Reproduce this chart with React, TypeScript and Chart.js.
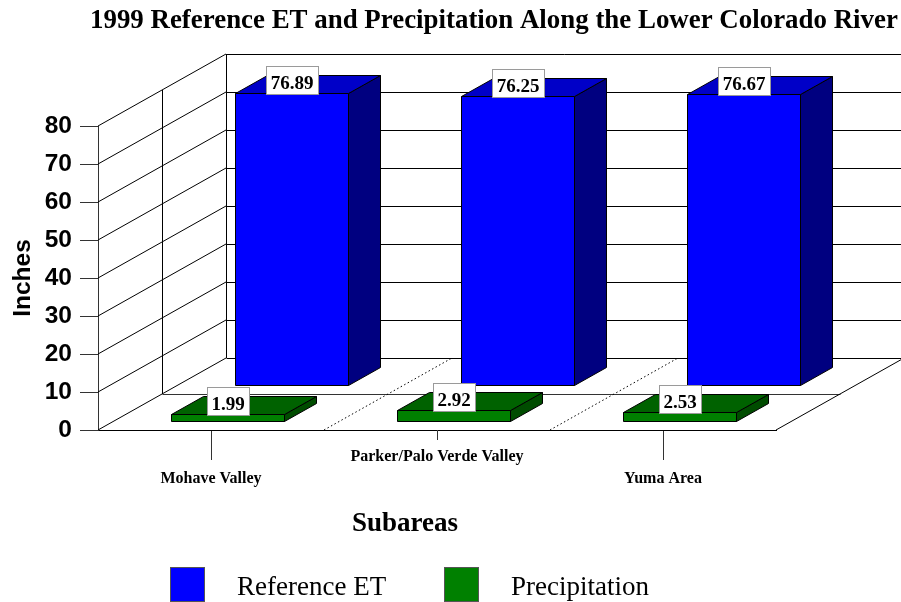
import { useEffect, useRef } from 'react';
import { Chart, registerables } from 'chart.js';

Chart.register(...registerables);

// ---- data ----
const chartTitle = '1999 Reference ET and Precipitation Along the Lower Colorado River';
const categories = ['Mohave Valley', 'Parker/Palo Verde Valley', 'Yuma Area'];
const referenceET = [76.89, 76.25, 76.67];
const precipitation = [1.99, 2.92, 2.53];
const seriesNames = ['Reference ET', 'Precipitation'];
const yMin = 0;
const yMax = 80;
const yStep = 10;
const yAxisTitle = 'Inches';
const xAxisTitle = 'Subareas';

// ---- style ----
const SERIF = '"Liberation Serif", "Times New Roman", serif';
const SANS = '"Liberation Sans", Arial, sans-serif';
const DEPTH_DX = 64;
const DEPTH_DY = -36;
const ET_COLORS = { front: '#0000FF', top: '#0000C8', side: '#000080' };
const PR_COLORS = { front: '#008000', top: '#006200', side: '#004C00' };

function drawScene(chart: any) {
  const ctx: CanvasRenderingContext2D = chart.ctx;
  const xs = chart.scales.x;
  const ys = chart.scales.y;
  const ca = chart.chartArea;
  const left = ca.left;
  const right = ca.right;
  const y0 = ys.getPixelForValue(yMin);
  const catW = xs.getPixelForValue(1) - xs.getPixelForValue(0);

  ctx.save();
  ctx.lineWidth = 1;
  const line = (x1: number, y1: number, x2: number, y2: number) => {
    ctx.beginPath();
    ctx.moveTo(x1, y1);
    ctx.lineTo(x2, y2);
    ctx.stroke();
  };
  const a = (v: number) => Math.round(v) + 0.5;

  // back wall and left wall
  ctx.strokeStyle = '#000';
  for (let v = yMin; v <= yMax; v += yStep) {
    const y = ys.getPixelForValue(v);
    line(a(left + 2 * DEPTH_DX), a(y + 2 * DEPTH_DY), right + 2 * DEPTH_DX + 20, a(y + 2 * DEPTH_DY));
    line(left, y, left + 2 * DEPTH_DX, y + 2 * DEPTH_DY);
  }
  const yTop = ys.getPixelForValue(yMax);
  line(a(left + DEPTH_DX), yTop + DEPTH_DY, a(left + DEPTH_DX), y0 + DEPTH_DY);
  line(a(left + 2 * DEPTH_DX), yTop + 2 * DEPTH_DY, a(left + 2 * DEPTH_DX), y0 + 2 * DEPTH_DY);

  // floor
  ctx.strokeStyle = '#333';
  line(a(left + DEPTH_DX), a(y0 + DEPTH_DY), a(right + DEPTH_DX), a(y0 + DEPTH_DY));
  ctx.strokeStyle = '#000';
  line(right, y0, right + 2 * DEPTH_DX, y0 + 2 * DEPTH_DY);
  ctx.setLineDash([1.5, 2.5]);
  for (let i = 1; i < categories.length; i++) {
    const xb = (xs.getPixelForValue(i - 1) + xs.getPixelForValue(i)) / 2;
    line(xb, y0, xb + 2 * DEPTH_DX, y0 + 2 * DEPTH_DY);
  }
  ctx.setLineDash([]);

  const bw = catW * 0.5;
  const drawBar = (cx: number, value: number, depth: number, col: any) => {
    const fx = Math.round(cx + depth * DEPTH_DX - bw / 2) + 0.5;
    const fr = Math.round(cx + depth * DEPTH_DX + bw / 2) + 0.5;
    const fb = Math.round(y0 + depth * DEPTH_DY) + 0.5;
    const ft = Math.round(fb - (y0 - ys.getPixelForValue(value))) + 0.5;
    const ox = Math.round(0.5 * DEPTH_DX);
    const oy = Math.round(0.5 * DEPTH_DY);
    ctx.strokeStyle = '#000';
    ctx.lineJoin = 'miter';
    // side
    ctx.beginPath();
    ctx.moveTo(fr, ft);
    ctx.lineTo(fr + ox, ft + oy);
    ctx.lineTo(fr + ox, fb + oy);
    ctx.lineTo(fr, fb);
    ctx.closePath();
    ctx.fillStyle = col.side;
    ctx.fill();
    ctx.stroke();
    // top
    ctx.beginPath();
    ctx.moveTo(fx, ft);
    ctx.lineTo(fr, ft);
    ctx.lineTo(fr + ox, ft + oy);
    ctx.lineTo(fx + ox, ft + oy);
    ctx.closePath();
    ctx.fillStyle = col.top;
    ctx.fill();
    ctx.stroke();
    // front
    ctx.beginPath();
    ctx.rect(fx, ft, fr - fx, fb - ft);
    ctx.fillStyle = col.front;
    ctx.fill();
    ctx.stroke();
    return { cx: (fx + fr) / 2, top: ft };
  };

  const drawLabel = (cx: number, top: number, value: number) => {
    const txt = value.toFixed(2);
    ctx.font = 'bold 19px ' + SERIF;
    const tw = ctx.measureText(txt).width;
    const w = Math.round(tw + 9);
    const h = 28;
    const bx = Math.round(cx - w / 2) + 0.5;
    const by = Math.round(top - h) + 0.5;
    ctx.fillStyle = '#fff';
    ctx.fillRect(bx, by, w, h);
    ctx.strokeStyle = '#9a9a9a';
    ctx.strokeRect(bx, by, w, h);
    ctx.fillStyle = '#000';
    ctx.textAlign = 'center';
    ctx.textBaseline = 'alphabetic';
    ctx.fillText(txt, cx, by + h - 6);
  };

  // back row: Reference ET
  const etTops = referenceET.map((v, i) => drawBar(xs.getPixelForValue(i), v, 1.25, ET_COLORS));
  etTops.forEach((t, i) => drawLabel(t.cx, t.top, referenceET[i]));
  // front row: Precipitation
  const prTops = precipitation.map((v, i) => drawBar(xs.getPixelForValue(i), v, 0.25, PR_COLORS));
  prTops.forEach((t, i) => drawLabel(t.cx, t.top, precipitation[i]));

  // longer ticks for the lower (staggered) category labels
  ctx.strokeStyle = '#333';
  categories.forEach((_, i) => {
    if (i % 2 === 0) {
      const x = a(xs.getPixelForTick(i));
      line(x, y0 + 10, x, y0 + 30);
    }
  });
  ctx.restore();
}

function drawFrameText(chart: any) {
  const ctx: CanvasRenderingContext2D = chart.ctx;
  const xs = chart.scales.x;
  ctx.save();
  ctx.fillStyle = '#000';
  ctx.textBaseline = 'alphabetic';
  // title
  ctx.font = 'bold 26.9px ' + SERIF;
  ctx.textAlign = 'left';
  ctx.fillText(chartTitle, 90, 28);
  // x axis title
  ctx.font = 'bold 27px ' + SERIF;
  ctx.textAlign = 'center';
  const midCat = (xs.getPixelForValue(0) + xs.getPixelForValue(categories.length - 1)) / 2;
  ctx.fillText(xAxisTitle, midCat - 32, 531);
  // legend
  const entries = [
    { name: seriesNames[0], color: ET_COLORS.front, x: 170 },
    { name: seriesNames[1], color: PR_COLORS.front, x: 444 },
  ];
  ctx.font = '27px ' + SERIF;
  ctx.textAlign = 'left';
  entries.forEach((e) => {
    ctx.fillStyle = e.color;
    ctx.fillRect(e.x + 0.5, 567.5, 34, 34);
    ctx.strokeStyle = '#555';
    ctx.lineWidth = 1;
    ctx.strokeRect(e.x + 0.5, 567.5, 34, 34);
    ctx.fillStyle = '#000';
    ctx.fillText(e.name, e.x + 67, 595);
  });
  ctx.restore();
}

const scenePlugin = {
  id: 'scene3d',
  afterDatasetsDraw(chart: any) {
    drawScene(chart);
  },
  afterDraw(chart: any) {
    drawFrameText(chart);
  },
};

export default function App() {
  const ref = useRef<HTMLCanvasElement | null>(null);
  useEffect(() => {
    if (!ref.current) return;
    const chart = new Chart(ref.current, {
      type: 'bar',
      data: {
        labels: categories.map((c, i) => (i % 2 === 0 ? ['', c] : [c])),
        datasets: [
          { label: seriesNames[0], data: referenceET, backgroundColor: 'rgba(0,0,0,0)', borderWidth: 0 },
          { label: seriesNames[1], data: precipitation, backgroundColor: 'rgba(0,0,0,0)', borderWidth: 0 },
        ],
      },
      options: {
        animation: false,
        responsive: true,
        maintainAspectRatio: false,
        events: [],
        layout: { padding: { top: 126, right: 125, left: 0, bottom: 0 } },
        plugins: {
          legend: { display: false },
          title: { display: false },
          tooltip: { enabled: false },
        },
        scales: {
          x: {
            type: 'category',
            offset: true,
            grid: {
              display: true,
              drawOnChartArea: false,
              drawTicks: true,
              offset: false,
              tickLength: 10,
              tickColor: '#333',
              color: '#333',
            },
            border: { display: true, color: '#000' },
            ticks: {
              autoSkip: false,
              maxRotation: 0,
              minRotation: 0,
              padding: 5.5,
              color: '#000',
              font: { family: SERIF, size: 16, weight: 'bold', lineHeight: 1.4 },
            },
            afterFit: (scale: any) => {
              scale.height = 172;
            },
          },
          y: {
            type: 'linear',
            min: yMin,
            max: yMax,
            grid: {
              display: true,
              drawOnChartArea: false,
              drawTicks: true,
              tickLength: 18,
              tickColor: '#333',
              color: '#333',
            },
            border: { display: true, color: '#333' },
            ticks: {
              stepSize: yStep,
              padding: 8,
              color: '#000',
              font: { family: SANS, size: 24.5, weight: 'bold' },
            },
            title: {
              display: true,
              text: yAxisTitle,
              color: '#000',
              font: { family: SANS, size: 24.5, weight: 'bold' },
              padding: { top: 9, bottom: 0 },
            },
            afterFit: (scale: any) => {
              scale.width = 98;
            },
          },
        },
      },
      plugins: [scenePlugin],
    } as any);
    return () => chart.destroy();
  }, []);

  return (
    <div style={{ position: 'fixed', left: 0, top: 0, width: 901, height: 602, background: '#fff' }}>
      <canvas ref={ref} />
    </div>
  );
}
